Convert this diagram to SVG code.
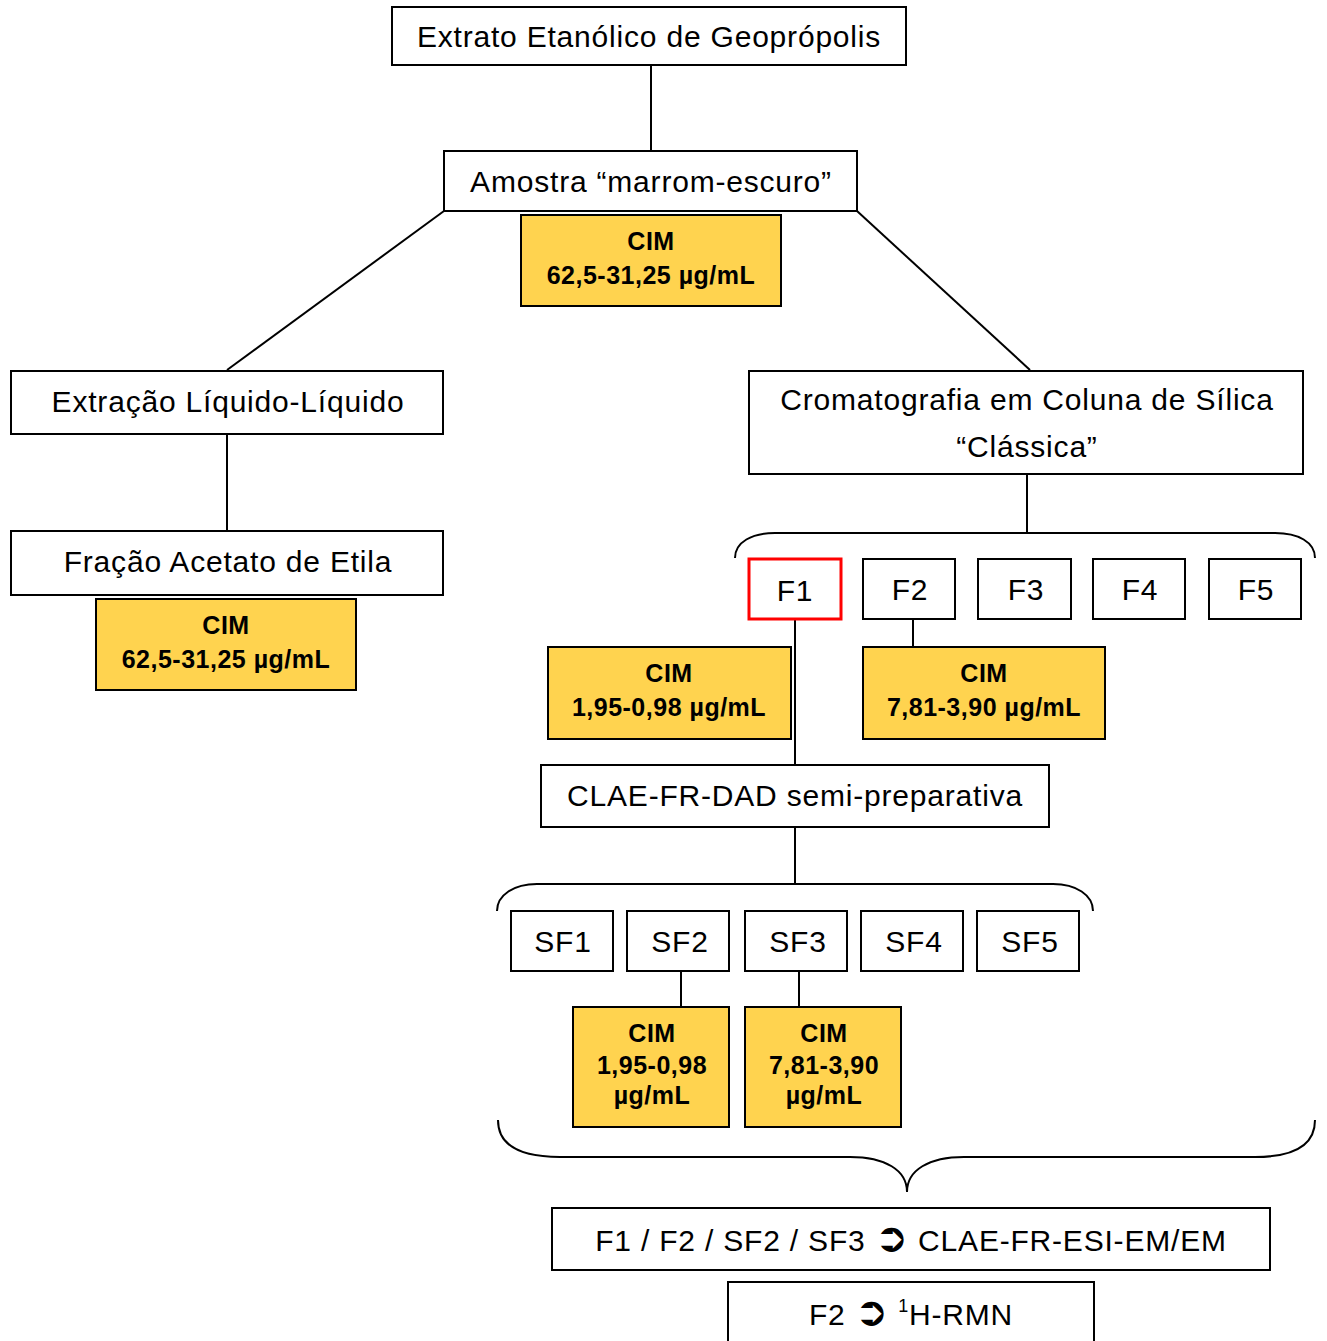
<svg xmlns="http://www.w3.org/2000/svg" width="1327" height="1341" viewBox="0 0 1327 1341">
<style>
.box{fill:#fff;stroke:#000;stroke-width:2}
.red{fill:#fff;stroke:#ff0000;stroke-width:3}
.cim{fill:#FFD34F;stroke:#000;stroke-width:2}
.t{font-family:"Liberation Sans",Arial,sans-serif;font-size:30px;letter-spacing:0.8px;text-anchor:middle;fill:#000}
.b{font-family:"Liberation Sans",Arial,sans-serif;font-size:25px;font-weight:bold;letter-spacing:0.5px;text-anchor:middle;fill:#000}
.ln{fill:none;stroke:#000;stroke-width:2}
.sym{font-family:"DejaVu Sans",sans-serif;font-size:40px;font-weight:bold}
</style>
<rect width="1327" height="1341" fill="#fff"/>
<g id="connectors" class="ln">
<line x1="651" y1="65" x2="651" y2="151"/>
<line x1="444" y1="211" x2="227" y2="370"/>
<line x1="857" y1="211" x2="1030" y2="370"/>
<line x1="227" y1="434" x2="227" y2="531"/>
<line x1="1027" y1="474" x2="1027" y2="533"/>
<path d="M735,558 C735,542 752,533 775,533 L1275,533 C1298,533 1315,542 1315,558"/>
<line x1="795" y1="619" x2="795" y2="765"/>
<line x1="913" y1="619" x2="913" y2="647"/>
<line x1="795" y1="827" x2="795" y2="884"/>
<path d="M497,911 C497,895 514,884 537,884 L1053,884 C1076,884 1093,895 1093,911"/>
<line x1="681" y1="971" x2="681" y2="1007"/>
<line x1="799" y1="971" x2="799" y2="1007"/>
<path d="M498,1120 C498,1145 520,1157 560,1157 L850,1157 C885,1157 907,1170 907,1192 C907,1170 929,1157 964,1157 L1255,1157 C1295,1157 1315,1145 1315,1120"/>
</g>
<g id="n-extrato"><rect class="box" x="392" y="7" width="514" height="58"/><text class="t" x="649" y="47">Extrato Etanólico de Geoprópolis</text></g>
<g id="n-amostra"><rect class="box" x="444" y="151" width="413" height="60"/><text class="t" x="651" y="192">Amostra “marrom-escuro”</text></g>
<g id="n-cim1"><rect class="cim" x="521" y="215" width="260" height="91"/><text class="b" x="651" y="250">CIM</text><text class="b" x="651" y="284">62,5-31,25 µg/mL</text></g>
<g id="n-extracao"><rect class="box" x="11" y="371" width="432" height="63"/><text class="t" x="228" y="412">Extração Líquido-Líquido</text></g>
<g id="n-fracao"><rect class="box" x="11" y="531" width="432" height="64"/><text class="t" x="228" y="572">Fração Acetato de Etila</text></g>
<g id="n-cim2"><rect class="cim" x="96" y="599" width="260" height="91"/><text class="b" x="226" y="634">CIM</text><text class="b" x="226" y="668">62,5-31,25 µg/mL</text></g>
<g id="n-croma"><rect class="box" x="749" y="371" width="554" height="103"/><text class="t" x="1027" y="410">Cromatografia em Coluna de Sílica</text><text class="t" x="1027" y="457">“Clássica”</text></g>
<g id="n-f1"><rect class="red" x="749" y="559" width="92" height="60"/><text class="t" x="795" y="601">F1</text></g>
<g id="n-f2"><rect class="box" x="863" y="559" width="92" height="60"/><text class="t" x="910" y="600">F2</text></g>
<g id="n-f3"><rect class="box" x="978" y="559" width="93" height="60"/><text class="t" x="1026" y="600">F3</text></g>
<g id="n-f4"><rect class="box" x="1093" y="559" width="92" height="60"/><text class="t" x="1140" y="600">F4</text></g>
<g id="n-f5"><rect class="box" x="1209" y="559" width="92" height="60"/><text class="t" x="1256" y="600">F5</text></g>
<g id="n-cimf1"><rect class="cim" x="548" y="647" width="243" height="92"/><text class="b" x="669" y="682">CIM</text><text class="b" x="669" y="716">1,95-0,98 µg/mL</text></g>
<g id="n-cimf2"><rect class="cim" x="863" y="647" width="242" height="92"/><text class="b" x="984" y="682">CIM</text><text class="b" x="984" y="716">7,81-3,90 µg/mL</text></g>
<g id="n-clae"><rect class="box" x="541" y="765" width="508" height="62"/><text class="t" x="795" y="806">CLAE-FR-DAD semi-preparativa</text></g>
<g id="n-sf1"><rect class="box" x="511" y="911" width="102" height="60"/><text class="t" x="563" y="952">SF1</text></g>
<g id="n-sf2"><rect class="box" x="627" y="911" width="102" height="60"/><text class="t" x="680" y="952">SF2</text></g>
<g id="n-sf3"><rect class="box" x="745" y="911" width="102" height="60"/><text class="t" x="798" y="952">SF3</text></g>
<g id="n-sf4"><rect class="box" x="861" y="911" width="102" height="60"/><text class="t" x="914" y="952">SF4</text></g>
<g id="n-sf5"><rect class="box" x="977" y="911" width="102" height="60"/><text class="t" x="1030" y="952">SF5</text></g>
<g id="n-cimsf2"><rect class="cim" x="573" y="1007" width="156" height="120"/><text class="b" x="652" y="1042">CIM</text><text class="b" x="652" y="1074">1,95-0,98</text><text class="b" x="652" y="1104">µg/mL</text></g>
<g id="n-cimsf3"><rect class="cim" x="745" y="1007" width="156" height="120"/><text class="b" x="824" y="1042">CIM</text><text class="b" x="824" y="1074">7,81-3,90</text><text class="b" x="824" y="1104">µg/mL</text></g>
<g id="n-esi"><rect class="box" x="552" y="1208" width="718" height="62"/><text class="t" x="911" y="1251">F1 / F2 / SF2 / SF3 <tspan class="sym">➲</tspan> CLAE-FR-ESI-EM/EM</text></g>
<g id="n-rmn"><rect class="box" x="728" y="1282" width="366" height="70"/><text class="t" x="911" y="1325">F2 <tspan class="sym">➲</tspan> <tspan font-size="18" dy="-13">1</tspan><tspan dy="13">H-RMN</tspan></text></g>
</svg>
